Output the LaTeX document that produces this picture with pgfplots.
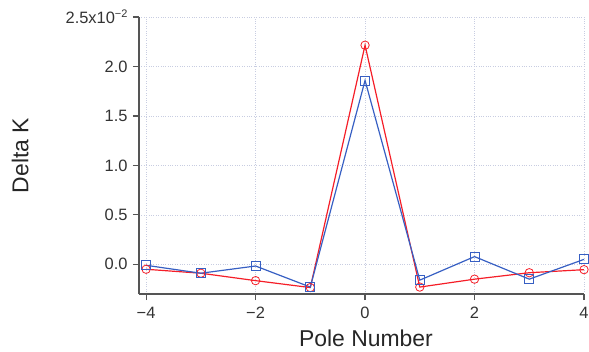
\documentclass[border=0pt]{standalone}
\usepackage{pgfplots}
\pgfplotsset{compat=1.18}
\usepackage{fontspec}
\setmainfont{Liberation Sans}
\definecolor{redc}{RGB}{245,30,40}
\definecolor{bluec}{RGB}{55,95,195}
\definecolor{axc}{RGB}{85,85,85}
\definecolor{gridc}{RGB}{200,205,225}
\begin{document}
\begin{tikzpicture}
\useasboundingbox (-139bp,-58bp) rectangle (450bp,294bp);
\begin{axis}[
  at={(0,0)}, anchor=south west,
  scale only axis, width=445bp, height=277bp,
  xmin=-4.13, xmax=4.0,
  ymin=-0.003, ymax=0.025,
  axis lines*=left,
  axis line style={axc, line width=1.8pt},
  every tick/.style={axc, line width=1.2pt},
  tick align=outside, major tick length=6bp,
  xtick={-4,-2,0,2,4},
  xticklabels={−4,−2,0,2,4},
  ytick={0,0.005,0.01,0.015,0.02,0.025},
  yticklabels={0.0,0.5,1.0,1.5,2.0,{2.5x10\raisebox{0.7ex}{\fontsize{11}{12}\selectfont −2}}},
  scaled y ticks=false,
  tick label style={font=\fontsize{16.5}{18}\selectfont, text=black!80},
  xticklabel style={yshift=-4bp},
  yticklabel style={xshift=-2bp},
  grid=major,
  major grid style={gridc, dotted, line width=0.6pt},
  clip=false,
  xlabel={Pole Number},
  ylabel={Delta K},
  label style={font=\fontsize{23}{26}\selectfont, text=black!85},
  xlabel style={at={(axis description cs:0.51,0)}, anchor=base, yshift=-52bp},
  ylabel style={at={(axis description cs:-0.267,0.5)}, anchor=center},
]
\addplot[redc, line width=1.2pt, mark=o, mark size=4.2bp, mark options={solid, draw=redc, fill=none, line width=0.8pt}] coordinates {
(-4,-0.0005) (-3,-0.0009) (-2,-0.00165) (-1,-0.00235) (0,0.02215) (1,-0.0023) (2,-0.0015) (3,-0.00085) (4,-0.00054)};
\addplot[bluec, line width=1.2pt, mark=square, mark size=4.5bp, mark options={solid, draw=bluec, fill=none, line width=0.8pt}] coordinates {
(-4,-0.0001) (-3,-0.0009) (-2,-0.00017) (-1,-0.0023) (0,0.01859) (1,-0.0016) (2,0.00078) (3,-0.0015) (4,0.0005)};
\end{axis}
\end{tikzpicture}
\end{document}
